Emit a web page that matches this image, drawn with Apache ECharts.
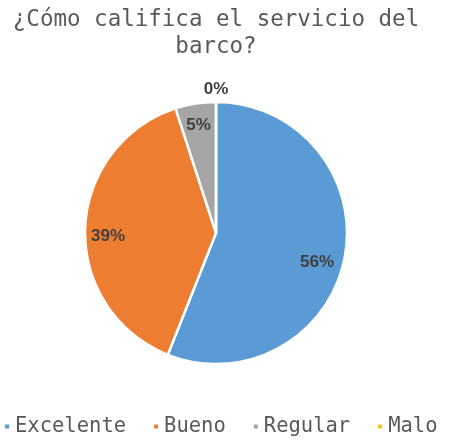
<!DOCTYPE html>
<html><head><meta charset="utf-8">
<script src="https://cdn.jsdelivr.net/npm/echarts@6/dist/echarts.min.js"></script>
<style>html,body{margin:0;padding:0;background:#fff}#c{width:453px;height:448px}</style>
</head><body><div id="c"></div>
<script>
const titleText = '¿Cómo califica el servicio del\nbarco?';
const categories = ['Excelente', 'Bueno', 'Regular', 'Malo'];
const values = [56, 39, 5, 0];
const colors = ['#5B9BD5', '#ED7D31', '#A5A5A5', '#FFC000'];
const labelOffsets = [[-8, 9], [3, 7], [0, 2], [0, -33]];

const chart = echarts.init(document.getElementById('c'), null, {renderer: 'canvas'});
const data = categories.map((n, i) => ({name: n, value: values[i], itemStyle: {color: colors[i]}}));
const labelData = categories.map((n, i) => ({name: n, value: values[i], label: {offset: labelOffsets[i]}}));
chart.setOption({
  animation: false,
  color: colors,
  title: {
    text: titleText, left: 211, top: 2,
    textAlign: 'center',
    textStyle: {fontFamily: 'DejaVu Sans Mono', fontSize: 22.5, fontWeight: 'normal', color: '#595959', lineHeight: 27}
  },
  legend: {
    bottom: 11, left: 3, padding: 0, icon: 'rect', itemWidth: 6, itemHeight: 6, itemGap: 26,
    data: categories,
    textStyle: {fontFamily: 'DejaVu Sans Mono', fontSize: 20.5, color: '#595959'}
  },
  series: [{
    type: 'pie', center: [216, 233], radius: [0, 131], startAngle: 90, clockwise: true,
    data: data, label: {show: false}, labelLine: {show: false},
    itemStyle: {borderColor: '#fff', borderWidth: 2.5}, silent: true
  }, {
    type: 'pie', center: [216, 233], radius: [85, 131], startAngle: 90, clockwise: true,
    data: labelData, silent: true,
    itemStyle: {color: 'rgba(0,0,0,0)', borderWidth: 0},
    label: {show: true, position: 'inside', formatter: '{c}%', fontFamily: 'Liberation Sans', fontWeight: 'bold', fontSize: 17, color: '#404040'},
    labelLine: {show: false}
  }]
});
</script></body></html>
